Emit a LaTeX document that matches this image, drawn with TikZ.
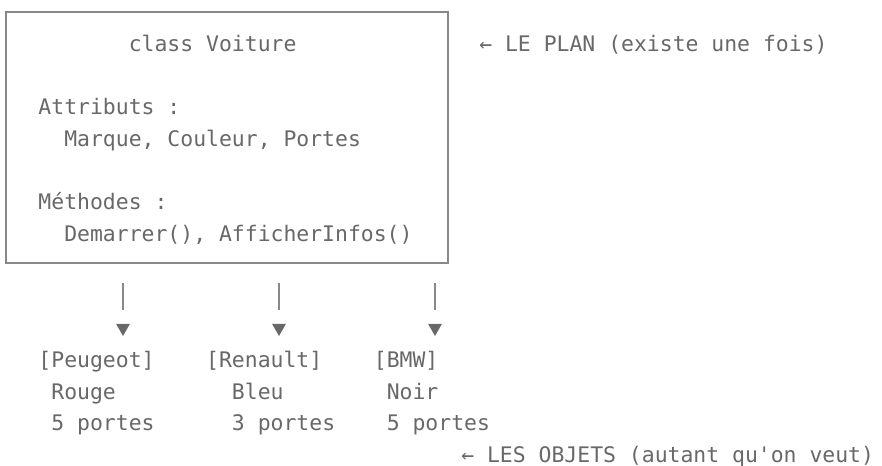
\documentclass[tikz,border=0pt]{standalone}
\usepackage{fontspec}
\setmonofont{DejaVu Sans Mono}
\usetikzlibrary{arrows.meta}
\definecolor{inkgray}{RGB}{104,104,104}
\definecolor{rulegray}{RGB}{136,136,136}

\begin{document}
\begin{tikzpicture}[x=0.75pt,y=-0.75pt,
	>/.tip={Triangle[width=10pt,length=9pt,color=inkgray]},
	mono/.style={anchor=base west,inner sep=0pt,text=inkgray,font=\ttfamily\fontsize{16.07}{19}\selectfont},
	classbox/.style={draw=rulegray,line width=1.2pt,minimum width=331.5pt,minimum height=188.25pt,inner sep=0pt},
	link/.style={->,draw=rulegray,line width=1.2pt,dash pattern=on 20pt off 40pt}]
	\useasboundingbox (0,0) rectangle (882,466);
	% the plan
	\draw (227,137.5) node (voiture) [classbox] {};
	\node (cls) [mono] at (128.5,51.6) {class Voiture};
	\node (plan) [mono] at (479,51.6) {← LE PLAN (existe une fois)};
	\node (attr) [mono] at (38.2,114.8) {Attributs :};
	\node (attrlist) [mono] at (64,146.4) {Marque, Couleur, Portes};
	\node (meth) [mono] at (38.2,209.6) {Méthodes :};
	\node (methlist) [mono] at (64,241.2) {Demarrer(), AfficherInfos()};

	% the objects
	\node (peugeot) [mono] at (38.2,367.6) {[Peugeot]};
	\node (renault) [mono] at (205.9,367.6) {[Renault]};
	\node (bmw) [mono] at (373.6,367.6) {[BMW]};
	\node (rouge) [mono] at (51.1,399.2) {Rouge};
	\node (bleu) [mono] at (231.7,399.2) {Bleu};
	\node (noir) [mono] at (386.5,399.2) {Noir};
	\node (portesp) [mono] at (51.1,430.8) {5 portes};
	\node (portesr) [mono] at (231.7,430.8) {3 portes};
	\node (portesb) [mono] at (386.5,430.8) {5 portes};
	\node (objets) [mono] at (461,462.4) {← LES OBJETS (autant qu'on veut)};

	\coordinate (fromp) at (123,283);
	\coordinate (top) at (123,336);
	\coordinate (fromr) at (279,283);
	\coordinate (tor) at (279,336);
	\coordinate (fromb) at (435,283);
	\coordinate (tob) at (435,336);
	\draw [link] (fromp) -- (top);
	\draw [link] (fromr) -- (tor);
	\draw [link] (fromb) -- (tob);
\end{tikzpicture}
\end{document}
